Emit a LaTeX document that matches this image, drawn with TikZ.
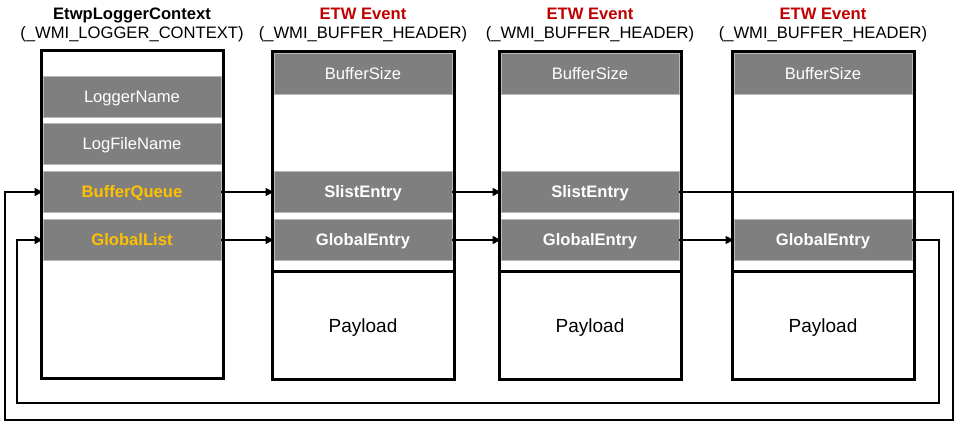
\documentclass[tikz,border=0pt]{standalone}
\usepackage{fontspec}
\setmainfont{Liberation Sans}
\usepackage{xcolor}
\usepackage{tikz}
\usetikzlibrary{arrows.meta, positioning}
\definecolor{fieldgray}{HTML}{7F7F7F}
\definecolor{hotorange}{HTML}{FFC000}
\definecolor{etwred}{HTML}{C00000}
\tikzset{
  structbox/.style={
    rectangle, draw=black, fill=white, line width=1.5pt,
    minimum width=91pt, minimum height=164pt, inner sep=0pt
  },
  field/.style={
    rectangle, fill=fieldgray, draw=gray!55, line width=0.4pt,
    minimum width=89pt, minimum height=20.5pt, inner sep=0pt,
    text height=5.9pt, text depth=0pt,
    text=white, font=\fontsize{8.3}{10}\selectfont
  },
  hotfield/.style={field, text=hotorange, font=\fontsize{8.3}{10}\selectfont\bfseries},
  linkfield/.style={field, font=\fontsize{8.3}{10}\selectfont\bfseries},
  payload/.style={
    rectangle, minimum width=91pt, minimum height=53.5pt, inner sep=0pt,
    text height=6.8pt, text depth=0pt,
    font=\fontsize{9.5}{11}\selectfont
  },
  title/.style={anchor=base, inner sep=0pt, font=\fontsize{8.3}{10}\selectfont\bfseries},
  subtitle/.style={anchor=base, inner sep=0pt, font=\fontsize{8.3}{10}\selectfont},
  divider/.style={line width=1.5pt},
  arrow/.style={-{Triangle[length=4pt,width=4pt]}, line width=0.6pt},
}

\begin{document}
\begin{tikzpicture}[x=0.5pt, y=-0.5pt]
    \useasboundingbox (0,0) rectangle (960,426);

    % logger context
    \node[title] (ctxname) at (132,20) {EtwpLoggerContext};
    \node[subtitle] (ctxtype) at (132,39) {(\_WMI\_LOGGER\_CONTEXT)};
    \node[structbox] (ctx) at (132,215) {};
    \node[field] (lname) at (132,96.5) {LoggerName};
    \node[field] (lfile) at (132,143.5) {LogFileName};
    \node[hotfield] (bq) at (132,192) {BufferQueue};
    \node[hotfield] (gl) at (132,240) {GlobalList};

    % buffers
    \node[title, text=etwred] (evname2) at (363,20) {ETW Event};
    \node[subtitle] (evtype2) at (363,39) {(\_WMI\_BUFFER\_HEADER)};
    \node[structbox] (ev2) at (363,215.5) {};
    \node[field] (bs2) at (363,73.5) {BufferSize};
    \node[linkfield] (se2) at (363,192) {SlistEntry};
    \node[linkfield] (ge2) at (363,240) {GlobalEntry};
    \node[payload] (pl2) at (363,325.5) {Payload};
    \draw[divider] (pl2.north west) -- (pl2.north east);

    \node[title, text=etwred] (evname3) at (590,20) {ETW Event};
    \node[subtitle] (evtype3) at (590,39) {(\_WMI\_BUFFER\_HEADER)};
    \node[structbox] (ev3) at (590,215.5) {};
    \node[field] (bs3) at (590,73.5) {BufferSize};
    \node[linkfield] (se3) at (590,192) {SlistEntry};
    \node[linkfield] (ge3) at (590,240) {GlobalEntry};
    \node[payload] (pl3) at (590,325.5) {Payload};
    \draw[divider] (pl3.north west) -- (pl3.north east);

    \node[title, text=etwred] (evname4) at (823,20) {ETW Event};
    \node[subtitle] (evtype4) at (823,39) {(\_WMI\_BUFFER\_HEADER)};
    \node[structbox] (ev4) at (823,215.5) {};
    \node[field] (bs4) at (823,73.5) {BufferSize};
    \node[linkfield] (ge4) at (823,240) {GlobalEntry};
    \node[payload] (pl4) at (823,325.5) {Payload};
    \draw[divider] (pl4.north west) -- (pl4.north east);

    % list links
    \coordinate (outerR) at (953,420);
    \coordinate (outerL) at (5,420);
    \coordinate (innerR) at (939,403);
    \coordinate (innerL) at (17,403);

    \draw[arrow] (bq) -- (se2);
    \draw[arrow] (se2) -- (se3);
    \draw[arrow] (se3.east) -| (outerR) -- (outerL) |- (bq.west);
    \draw[arrow] (gl) -- (ge2);
    \draw[arrow] (ge2) -- (ge3);
    \draw[arrow] (ge3) -- (ge4);
    \draw[arrow] (ge4.east) -| (innerR) -- (innerL) |- (gl.west);
  \end{tikzpicture}
\end{document}
